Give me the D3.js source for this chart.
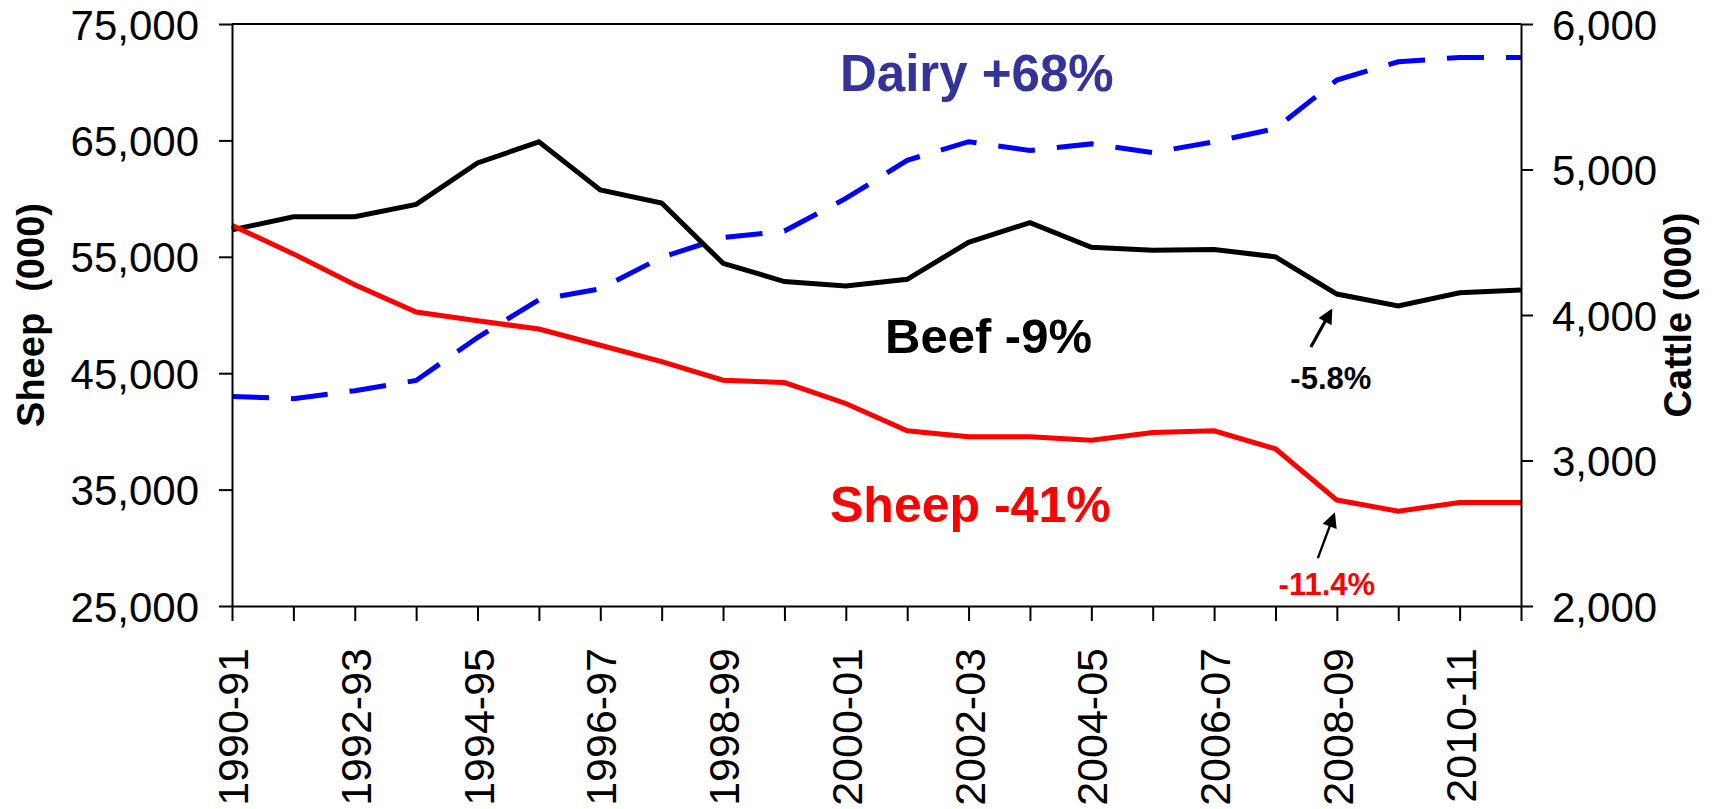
<!DOCTYPE html>
<html>
<head>
<meta charset="utf-8">
<script src="https://cdn.jsdelivr.net/npm/d3@7"></script>
<style>
  body { margin: 0; background: #fff; }
  text { font-family: "Liberation Sans", Arial, sans-serif; }
</style>
</head>
<body>
<svg id="chart" width="1713" height="809"></svg>
<script>
// Livestock numbers, 1990-91 to 2011-12
const years = ["1990-91", "1991-92", "1992-93", "1993-94", "1994-95", "1995-96", "1996-97",
  "1997-98", "1998-99", "1999-00", "2000-01", "2001-02", "2002-03", "2003-04", "2004-05",
  "2005-06", "2006-07", "2007-08", "2008-09", "2009-10", "2010-11", "2011-12"];

// sheep (000), left axis
const sheep = [57700, 55250, 52600, 50250, 49500, 48800, 47400, 46000, 44400, 44200, 42400,
  40060, 39550, 39550, 39250, 39900, 40050, 38500, 34100, 33150, 33900, 33900];

// cattle (000), right axis
const beef = [4585, 4675, 4675, 4760, 5045, 5190, 4860, 4770, 4355, 4230, 4200,
  4245, 4500, 4635, 4465, 4445, 4450, 4400, 4144, 4062, 4153, 4172];
const dairy = [3440, 3425, 3480, 3550, 3845, 4105, 4180, 4397, 4532, 4577, 4801,
  5063, 5191, 5131, 5176, 5116, 5191, 5281, 5615, 5740, 5770, 5770];

const sheepTicks = [25000, 35000, 45000, 55000, 65000, 75000];
const cattleTicks = [2000, 3000, 4000, 5000, 6000];

const svg = d3.select("#chart");
const margin = { top: 24, right: 192, bottom: 203, left: 232 };
const width = +svg.attr("width") - margin.left - margin.right;
const height = +svg.attr("height") - margin.top - margin.bottom;
const font = "\"Liberation Sans\", Arial, sans-serif";

const x = d3.scalePoint().domain(years).range([0, width]);
const yL = d3.scaleLinear().domain([25000, 75000]).range([height, 0]);
const yR = d3.scaleLinear().domain([2000, 6000]).range([height, 0]);

const g = svg.append("g").attr("transform", `translate(${margin.left},${margin.top})`);

// top border of the plot area
g.append("line")
  .attr("x1", 0).attr("x2", width).attr("y1", 0).attr("y2", 0)
  .attr("stroke", "#000").attr("stroke-width", 2);

// Lines
const lineL = d3.line().x((d, i) => x(years[i])).y(d => yL(d));
const lineR = d3.line().x((d, i) => x(years[i])).y(d => yR(d));

g.append("path").datum(dairy)
  .attr("d", lineR).attr("fill", "none")
  .attr("stroke", "#0000ff").attr("stroke-width", 5)
  .attr("stroke-dasharray", "37,22");

g.append("path").datum(beef)
  .attr("d", lineR).attr("fill", "none")
  .attr("stroke", "#000").attr("stroke-width", 5);

g.append("path").datum(sheep)
  .attr("d", lineL).attr("fill", "none")
  .attr("stroke", "#ff0000").attr("stroke-width", 5);

// Axes
function styleAxis(sel) {
  sel.selectAll(".domain").attr("stroke", "#000").attr("stroke-width", 2);
  sel.selectAll(".tick line").attr("stroke", "#000").attr("stroke-width", 2);
  sel.selectAll("text").attr("fill", "#000").attr("font-family", font);
}

const left = g.append("g")
  .call(d3.axisLeft(yL).tickValues(sheepTicks).tickFormat(d3.format(",")).tickSizeInner(13).tickSizeOuter(0).tickPadding(20));
styleAxis(left);
left.selectAll("text").attr("font-size", 42).attr("dy", "0.36em");

const right = g.append("g")
  .attr("transform", `translate(${width},0)`)
  .call(d3.axisRight(yR).tickValues(cattleTicks).tickFormat(d3.format(",")).tickSizeInner(12).tickSizeOuter(0).tickPadding(19));
styleAxis(right);
right.selectAll("text").attr("font-size", 42).attr("dy", "0.36em");

const bottom = g.append("g")
  .attr("transform", `translate(0,${height})`)
  .call(d3.axisBottom(x).tickSizeInner(15).tickSizeOuter(0)
    .tickFormat((d, i) => i % 2 === 0 ? d : ""));
styleAxis(bottom);
bottom.selectAll("text")
  .attr("font-size", 43)
  .attr("text-anchor", "end")
  .attr("transform", "rotate(-90)")
  .attr("x", -42)
  .attr("y", 0)
  .attr("dy", "0.36em");

// Axis titles
svg.append("text")
  .attr("transform", `translate(44,${margin.top + height / 2}) rotate(-90)`)
  .attr("text-anchor", "middle")
  .attr("font-size", 38).attr("font-weight", "bold")
  .style("white-space", "pre")
  .text("Sheep  (000)");

svg.append("text")
  .attr("transform", `translate(1691,${margin.top + height / 2}) rotate(-90)`)
  .attr("text-anchor", "middle")
  .attr("font-size", 38).attr("font-weight", "bold")
  .text("Cattle (000)");

// Series labels
svg.append("text").attr("x", 840).attr("y", 91)
  .attr("font-size", 51).attr("font-weight", "bold").attr("fill", "#333399")
  .text("Dairy +68%");
svg.append("text").attr("x", 885).attr("y", 353)
  .attr("font-size", 49).attr("font-weight", "bold").attr("fill", "#000")
  .text("Beef -9%");
svg.append("text").attr("x", 830).attr("y", 522)
  .attr("font-size", 50).attr("font-weight", "bold").attr("fill", "#ff0000")
  .text("Sheep -41%");

// Arrow annotations at 2008-09
const defs = svg.append("defs");
defs.append("marker")
  .attr("id", "head")
  .attr("viewBox", "0 0 10 10")
  .attr("refX", 8).attr("refY", 5)
  .attr("markerWidth", 17).attr("markerHeight", 15)
  .attr("markerUnits", "userSpaceOnUse")
  .attr("orient", "auto")
  .append("path").attr("d", "M0,0 L10,5 L0,10 Z").attr("fill", "#000");

const i0809 = years.indexOf("2008-09");
const ax = margin.left + x(years[i0809]);

const beefY = margin.top + yR(beef[i0809]);
svg.append("line")
  .attr("x1", ax - 26).attr("y1", beefY + 53)
  .attr("x2", ax - 6).attr("y2", beefY + 17)
  .attr("stroke", "#000").attr("stroke-width", 3.2)
  .attr("marker-end", "url(#head)");
svg.append("text").attr("x", ax - 6).attr("y", beefY + 95)
  .attr("text-anchor", "middle")
  .attr("font-size", 31).attr("font-weight", "bold").attr("fill", "#000")
  .text("-5.8%");

const sheepY = margin.top + yL(sheep[i0809]);
svg.append("line")
  .attr("x1", ax - 19).attr("y1", sheepY + 58)
  .attr("x2", ax - 3).attr("y2", sheepY + 15)
  .attr("stroke", "#000").attr("stroke-width", 2.4)
  .attr("marker-end", "url(#head)");
svg.append("text").attr("x", ax - 10).attr("y", sheepY + 95)
  .attr("text-anchor", "middle")
  .attr("font-size", 31).attr("font-weight", "bold").attr("fill", "#ff0000")
  .text("-11.4%");
</script>
</body>
</html>
